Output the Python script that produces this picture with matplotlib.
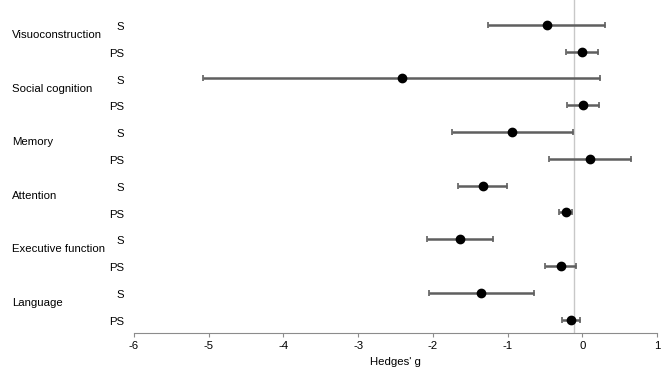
import numpy as np
import matplotlib.pyplot as plt
from matplotlib.transforms import blended_transform_factory

plt.rcParams['font.family'] = ['Liberation Sans', 'DejaVu Sans']
plt.rcParams['axes.unicode_minus'] = False

# Datos (Hedges' g e IC 95%)
dominios = ["Visuoconstruction", "Social cognition", "Memory",
            "Attention", "Executive function", "Language"]
grupos = ["S", "PS"]

g_val = [-0.47, 0.00, -2.41, 0.01, -0.94, 0.10,
         -1.33, -0.22, -1.64, -0.29, -1.36, -0.15]
ic_inf = [-1.26, -0.22, -5.07, -0.21, -1.75, -0.44,
          -1.66, -0.31, -2.08, -0.50, -2.05, -0.27]
ic_sup = [0.31, 0.21, 0.24, 0.23, -0.12, 0.65,
          -1.01, -0.14, -1.20, -0.08, -0.65, -0.03]
linea_ref = -0.11

fig = plt.figure(figsize=(6.69, 3.76), dpi=100)
ax = fig.add_axes([0.2003, 0.1144, 0.7817, 0.8856])

filas = np.arange(len(g_val))
g = np.array(g_val)
err = [g - np.array(ic_inf), np.array(ic_sup) - g]

ax.axvline(linea_ref, color="#c8c8c8", lw=1, zorder=1)
ax.errorbar(g, filas, xerr=err, fmt="o", color="black", ms=6,
            ecolor="#5f5f5f", elinewidth=1.8, capsize=2, capthick=1.2, zorder=3)

ax.set_xlim(-6, 1)
ax.set_ylim(11.5, -0.93)
ax.set_xticks(range(-6, 2))
ax.set_yticks([])
for s in ["top", "right", "left"]:
    ax.spines[s].set_visible(False)
ax.spines["bottom"].set_color("#8c8c8c")
ax.tick_params(axis="x", colors="#8c8c8c", labelcolor="black", labelsize=8.2,
               length=3, pad=3)
ax.set_xlabel("Hedges' g", fontsize=8.2, labelpad=4)

# Etiquetas de dominio y grupo
trans = blended_transform_factory(fig.transFigure, ax.transData)
for i, dom in enumerate(dominios):
    for j, gr in enumerate(grupos):
        ax.text(0.185, 2 * i + j + 0.08, gr, transform=trans, ha="right",
                va="center", fontsize=8.2)
    ax.text(0.018, 2 * i + 0.38, dom, transform=trans, ha="left",
            va="center", fontsize=8.2)

plt.savefig("out.png", dpi=100)
